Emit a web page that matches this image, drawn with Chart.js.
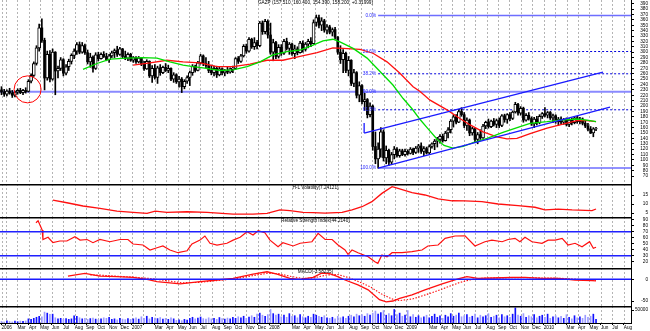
<!DOCTYPE html>
<html>
<head>
<meta charset="utf-8">
<title>GAZP weekly</title>
<script src="https://cdn.jsdelivr.net/npm/chart.js@4.4.1/dist/chart.umd.min.js"></script>
<style>
  html, body { margin: 0; padding: 0; background: #ffffff; }
  #board { position: relative; width: 650px; height: 331px; overflow: hidden; background: #ffffff; }
  #board canvas { position: absolute; left: 0; }
</style>
</head>
<body>
<div id="board">
  <canvas id="priceCanvas" width="650" height="184" style="top:0px"></canvas>
  <canvas id="hlCanvas" width="650" height="33" style="top:184px"></canvas>
  <canvas id="rsiCanvas" width="650" height="51" style="top:217px"></canvas>
  <canvas id="macdCanvas" width="650" height="38" style="top:268px"></canvas>
  <canvas id="volCanvas" width="650" height="25" style="top:306px"></canvas>
</div>
<script>
// GAZP weekly bars, oldest first (bar index = week number)
const opens = [
  230,226,222,228,224,220,226,229,225,229, 227,246,257,279,308,345,322,252,296,250,
  300,265,270,286,261,273,283,294,302,314, 300,312,299,282,291,270,295,288,296,292,
  286,293,299,303,296,306,292,289,296,285, 290,282,289,278,269,283,256,270,253,271,
  262,272,266,270,250,258,245,250,236,246, 253,262,274,266,280,293,279,275,266,262,
  270,258,269,262,265,263,269,270,288,283, 293,311,302,324,310,318,312,354,338,357,
  332,300,318,292,309,298,320,307,315,297, 306,299,317,305,315,320,316,355,364,350,
  358,341,347,337,342,328,300,286,298,266, 285,242,262,220,238,208,212,184,200,125,
  102,120,152,104,118,96,110,120,108,117, 110,116,112,120,114,122,126,116,121,113,
  125,130,135,138,144,136,150,156,172,180, 170,190,184,164,174,150,158,138,147,141,
  163,170,162,172,166,173,164,182,175,184, 177,189,203,187,196,174,183,177,167,176,
  169,181,186,183,188,178,182,171,176,170, 175,166,174,169,178,171,176,168,163,157,
  150,157.51
];
const highs = [
  236,231,230,233,229,228,232,233,231,234, 249,260,282,312,352,362,326,302,303,306,
  301,274,290,288,277,287,297,306,318,319, 318,315,304,298,293,299,300,299,301,298,
  296,302,306,311,309,307,302,299,298,292, 292,292,290,283,286,284,275,277,274,277,
  274,279,276,271,262,260,255,253,249,256, 265,277,276,283,296,295,290,283,276,274,
  274,272,271,268,272,271,274,290,292,296, 314,315,327,326,327,322,357,358,361,360,
  354,324,320,314,314,324,326,318,317,313, 310,320,321,318,324,327,360,369,369,364,
  361,351,350,345,346,329,312,305,300,292, 286,268,264,245,240,224,214,206,202,152,
  132,160,156,126,120,114,125,123,120,120, 120,119,123,122,125,129,132,125,124,128,
  132,138,142,147,148,153,160,175,184,184, 194,197,188,178,176,161,159,151,156,166,
  172,176,174,177,176,178,184,185,186,188, 191,207,205,199,198,186,188,180,179,181,
  184,188,197,190,190,185,184,179,180,177, 178,177,178,180,181,179,178,173,168,162,
  160,160.4
];
const lows = [
  221,218,219,222,216,217,222,223,221,224, 226,243,255,276,302,318,230,248,245,248,
  221,252,266,256,258,266,278,288,296,297, 298,296,278,272,263,268,284,287,290,284,
  281,290,290,292,294,289,286,284,283,281, 279,280,275,266,268,253,244,250,242,257,
  260,264,262,247,244,242,235,225,232,242, 238,257,263,265,278,275,271,262,258,256,
  253,256,258,256,260,261,262,268,279,281, 291,298,300,307,305,306,310,333,334,326,
  296,284,288,289,294,296,304,296,294,288, 295,298,300,302,308,310,315,348,345,340,
  337,334,334,330,324,296,279,262,262,256, 238,236,215,208,204,192,178,180,118,93,
  85,105,98,93,90,92,102,105,105,108, 107,109,111,110,112,114,112,108,111,111,
  122,119,124,131,133,135,141,150,161,167, 169,181,160,155,145,146,133,130,138,140,
  158,159,160,163,160,160,162,170,168,173, 175,187,183,183,170,172,174,164,160,165,
  167,177,180,178,175,169,168,164,167,166, 163,162,165,167,168,167,165,160,154,149,
  143,154.39
];
const closes = [
  226,222,228,224,220,226,229,225,229,227, 246,257,279,308,345,322,252,296,250,300,
  265,270,286,261,273,283,294,302,314,300, 312,299,282,291,270,295,288,296,292,286,
  293,299,303,296,306,292,289,296,285,290, 282,289,278,269,283,256,270,253,271,262,
  272,266,270,250,258,245,250,236,246,253, 262,274,266,280,293,279,275,266,262,270,
  258,269,262,265,263,269,270,288,283,293, 311,302,324,310,318,312,354,338,357,332,
  300,318,292,309,298,320,307,315,297,306, 299,317,305,315,320,316,355,364,350,358,
  341,347,337,342,328,300,286,298,266,285, 242,262,220,238,208,212,184,200,125,102,
  120,152,104,118,96,110,120,108,117,110, 116,112,120,114,122,126,116,121,113,125,
  130,135,138,144,136,150,156,172,180,170, 190,184,164,174,150,158,138,147,141,163,
  170,162,172,166,173,164,182,175,184,177, 189,203,187,196,174,183,177,167,176,169,
  181,186,183,188,178,182,171,176,170,175, 166,174,169,178,171,176,168,163,157,150,
  157.88,158.2
];
const volumes = [
  6000,4000,8000,5500,4000,7000,5000,7500,6000,8000, 16000,14000,18000,22000,26000,24000,42000,38000,33000,34000,
  20000,16000,18000,15000,17000,14000,16000,28000,26000,20000, 16000,18000,14000,17000,19000,15000,13000,16000,20000,18000,
  22000,14000,16000,12000,18000,15000,13000,17000,14000,16000, 20000,15000,24000,18000,26000,16000,22000,19000,17000,21000,
  15000,18000,14000,20000,16000,10000,12000,9000,14000,11000, 18000,22000,16000,19000,23000,17000,15000,20000,16000,18000,
  14000,21000,17000,15000,19000,16000,22000,18000,24000,20000, 26000,18000,23000,28000,22000,34000,38000,30000,26000,32000,
  52000,36000,30000,34000,24000,30000,22000,36000,26000,28000, 20000,32000,24000,20000,26000,22000,34000,30000,26000,22000,
  28000,20000,18000,22000,16000,26000,20000,24000,18000,26000, 30000,24000,34000,28000,32000,26000,36000,30000,38000,46000,
  34000,40000,48000,30000,36000,28000,52000,32000,38000,26000, 30000,48000,24000,32000,22000,28000,20000,24000,30000,20000,
  26000,34000,22000,28000,18000,30000,24000,36000,26000,30000, 38000,24000,28000,32000,22000,26000,34000,20000,30000,24000,
  28000,36000,22000,26000,30000,20000,32000,24000,28000,22000, 34000,58000,30000,26000,36000,22000,28000,24000,32000,20000,
  26000,30000,22000,34000,18000,24000,28000,20000,26000,18000, 32000,22000,16000,28000,20000,24000,18000,30000,22000,26000,
  34000,14000
];

// moving averages on the price panel (bar, value)
const greenBars = [30.3,35.5,40.3,46.7,52.6,57.8,62.6,67.5,71.2,74.9,81.2,86.1,91.3,96.1,100.9,106.1,111,115.8,119.5,123.2,125.8,130.7,135.9,140.7,145.5,149.3,152.6,155.6,158.5,162,164.5,167.8,171.6,175.3,180.5,186.4,192.8,196.5,202.8,207.6,213.9,217.7,221];
const greenValues = [268,279,287,289,290,289,282,276,273,271,266,267,273,282,295,301,304,313,321,324,319,307,289,264,239,214,195,175,158,138,127,122,125,132,140,151,162,168,171,174,176,174,171];
const redBars = [48.9,55.2,61.5,67.5,73.8,80.1,86.1,92.4,98.7,104.6,111,117.3,123.2,127,133.3,138.1,143.3,148.1,153,155.6,159.3,165.6,170.4,174.2,179,184.2,187.9,191.6,196.5,202.8,207.6,213.9,217.7,221];
const redValues = [276,280,285,282,280,273,273,278,285,285,292,299,308,307,305,298,282,261,236,227,211,193,177,165,152,143,139,140,149,159,165,173,173,171];

// Fibonacci retracement from the 2008 high to the low
const fibHigh = 368, fibLow = 85, fibStartBar = 140;
const fibLevels = [0, 23.6, 38.2, 50, 61.8, 100];

// trend channel and marker
const upperChannelBars = [134.8, 223.6], upperChannelValues = [150, 263];
const lowerChannelBars = [140, 226.2], lowerChannelValues = [85, 198];
const anchorBars = [134.8, 134.8], anchorValues = [150, 168.6];
const markBar = 9.7, markValue = 231;

// indicators (bar, value)
const hlBars = [19.1,24.3,30.3,36.6,42.9,48.9,54.1,57.1,61.5,69,76.4,86.1,93.5,98.7,103.5,107.2,112.1,115.8,120.3,126.6,130.3,134,137.7,141.4,145.2,147.4,152.6,157.4,162.3,167.5,172.3,178.6,184.6,192,198.3,202,206.9,212.1,219.5,221];
const hlValues = [12.2,10.7,8.9,7.6,6.1,5.4,4.8,6.1,5.4,5.7,5.4,4.4,4.4,4.8,6.7,6.3,5.4,5.2,5.0,5.4,6.7,8.5,11.3,15.9,19.6,18.7,16.3,15,12.8,11.8,11.7,11.3,10,9.1,8.2,6.7,7.2,6.7,6.3,7.24];
const rsiBars = [12.8,13.6,15.1,15.4,17.3,19.1,21.7,24.3,27.3,29.2,31.8,34,36.6,40.3,44.1,47,48.9,52.6,55.2,57.8,60,62.6,65.6,69,70.8,73.8,75.6,77.5,80.1,83.8,86.1,88.7,91.3,93.5,95.4,97.9,99.8,102.8,104.6,108.4,111,115.4,117.7,120.3,122.9,125.1,127.7,128.8,130.3,132.5,136.3,138.8,139.9,141.4,143.3,145.2,148.9,152.6,156.3,158.5,162.3,164.9,168.6,172.3,176,179.7,182.3,186.1,188.3,190.9,192.7,194.6,197.2,200.9,203.2,205.8,208.4,210.6,213.2,215.8,218.6,220,221];
const rsiValues = [85,88.3,72.8,57,60.7,51.7,54.5,54.5,61.7,56,57,51.7,57,53.3,57,57,49.5,47.8,39.5,43.3,46.2,39.5,35,38.3,49.5,56,62.8,50.7,47.8,50.7,56,60.7,70,64.5,71.7,68.3,56,45,51.7,46.2,50.7,53.3,67.3,57,57,47.8,39.5,32.3,39.5,35,28.3,20,17.3,31,28.3,35,35,36.7,39.5,46.2,47.8,59,62.8,63,46.2,53.3,56,53.3,57,59,53.3,60.7,53.3,50.7,56,56,59,47.8,50.7,45,53.3,42.3,44.2];
const macdBars = [24.7,31,36.6,42.9,48.9,54.1,57.8,66.4,73.8,80.1,86.1,93.5,98.7,102.4,107.2,111,115.8,119,122,125,127.7,132.5,136.3,138.5,140.5,143,145.5,148,152.6,157.4,163.8,169.7,173,177.1,183,189.8,194.6,200.9,206.9,213.2,219.5,221];
const macdValues = [7.5,13.6,7.5,6,4.5,0,-5.4,-10.7,-5.4,-1.6,2.3,12,17.3,12,2.3,0,4.5,14,13,6,-1.6,-13,-24.3,-36,-47,-52,-50,-44,-35.7,-24.3,-10.7,0.7,6,2.3,3,4.5,4.5,2.3,2.3,-1.6,-3.2,-3.58];
const signalBars = [33,37,43,49,55,60,67,74,80,86,93,99,103,108,112,116,121,125,129,133,137,141,145,148,153,158,164,170,175,180,190,195,201,207,213,219,221];
const signalValues = [10,9.5,7,5,2,-2,-8,-7,-3,0.5,8,14,13,6,2,3,10,11,4,-6,-17,-33,-45,-49,-45,-35,-22,-8,0,3,3.5,4,3,2.5,0.5,-2,-2.5];

// axis ticks
const priceTicks = [70,80,90,100,110,120,130,140,150,160,170,180,190,200,210,220,230,240,250,260,270,280,290,300,310,320,330,340,350,360,370,380,390];
const hlTicks = [5, 10, 15];
const rsiTicks = [20, 30, 40, 50, 60, 70, 80, 90];
const macdTicks = [-50, 0];
const volTicks = [50000];

// month starts on the bar axis, Feb 2006 .. Aug 2010 (first entry marks the first bar)
const monthTicks = [
  0, 1.67, 5.93, 10.18, 14.43, 18.68, 22.94, 27.19, 31.44, 35.70, 39.95, 44.20,
  48.45, 52.71, 56.96, 61.21, 65.47, 69.72, 73.97, 78.22, 82.48, 86.73, 90.98, 95.23,
  99.49, 103.74, 107.99, 112.25, 116.50, 120.75, 125.00, 129.26, 133.51, 137.76, 142.02, 146.27,
  150.52, 154.77, 159.03, 163.28, 167.53, 171.78, 176.04, 180.29, 184.54, 188.80, 193.05, 197.30,
  201.55, 205.81, 210.06, 214.31, 218.57, 222.82, 227.07, 231.32
];
const monthLabels = [
  '2006', '', 'Mar', 'Apr', 'May', 'Jun', 'Jul', 'Aug', 'Sep', 'Oct', 'Nov', 'Dec',
  '2007', '', 'Mar', 'Apr', 'May', 'Jun', 'Jul', 'Aug', 'Sep', 'Oct', 'Nov', 'Dec',
  '2008', '', 'Mar', 'Apr', 'May', 'Jun', 'Jul', 'Aug', 'Sep', 'Oct', 'Nov', 'Dec',
  '2009', '', 'Mar', 'Apr', 'May', 'Jun', 'Jul', 'Aug', 'Sep', 'Oct', 'Nov', 'Dec',
  '2010', '', 'Mar', 'Apr', 'May', 'Jun', 'Jul', 'Aug'
];
const X_MIN = -0.56, X_MAX = 234;

const FONT = "'Liberation Sans', Arial, sans-serif";
const TXT = 4.7;

const pts = (xs, ys) => xs.map((x, k) => ({ x, y: ys[k] }));

function rightAxis(min, max, values) {
  return {
    position: 'right', min, max,
    afterBuildTicks: s => { s.ticks = values.map(v => ({ value: v })); },
    afterFit: s => { s.width = 17; s.paddingTop = 0; s.paddingBottom = 0; },
    grid: { drawOnChartArea: false, drawTicks: true, tickLength: 3, color: '#000000', lineWidth: 1 },
    border: { display: true, color: '#000000', width: 1 },
    ticks: {
      autoSkip: false, padding: 1, crossAlign: 'far', color: '#000000',
      font: { family: FONT, size: TXT, lineHeight: 1 },
      callback: v => String(v)
    }
  };
}

function hiddenX() {
  return { type: 'linear', min: X_MIN, max: X_MAX, offset: false, display: false, grid: { offset: false } };
}

function line(data, color, width, extra) {
  return Object.assign({
    type: 'line', data, borderColor: color, borderWidth: width,
    pointRadius: 0, fill: false, tension: 0
  }, extra || {});
}

// dashed monthly grid through every panel
const monthGrid = {
  id: 'monthGrid',
  beforeDatasetsDraw(chart) {
    const { ctx, chartArea: a, scales: { x } } = chart;
    ctx.save();
    ctx.strokeStyle = '#b4b4b4';
    ctx.lineWidth = 1;
    ctx.setLineDash([2, 2]);
    monthTicks.forEach(v => {
      const px = Math.round(x.getPixelForValue(v)) + 0.5;
      ctx.beginPath();
      ctx.moveTo(px, a.top);
      ctx.lineTo(px, a.bottom);
      ctx.stroke();
    });
    ctx.restore();
  }
};

const topRule = {
  id: 'topRule',
  afterDraw(chart) {
    const { ctx, chartArea: a } = chart;
    ctx.save();
    ctx.fillStyle = '#000000';
    ctx.fillRect(a.left, a.top, a.right - a.left, 1.5);
    ctx.restore();
  }
};

function caption(text, dy) {
  return {
    id: 'caption',
    afterDraw(chart) {
      const { ctx, chartArea: a } = chart;
      ctx.save();
      ctx.font = TXT + 'px ' + FONT;
      ctx.fillStyle = '#000000';
      ctx.textAlign = 'center';
      ctx.textBaseline = 'middle';
      ctx.fillText(text, (a.left + a.right) / 2, a.top + dy);
      ctx.restore();
    }
  };
}

const fibPrice = p => fibHigh - (fibHigh - fibLow) * p / 100;

const fibText = {
  id: 'fibText',
  afterDatasetsDraw(chart) {
    const { ctx, scales: { x, y } } = chart;
    ctx.save();
    ctx.font = TXT + 'px ' + FONT;
    ctx.fillStyle = '#2a2aff';
    ctx.textAlign = 'right';
    ctx.textBaseline = 'middle';
    fibLevels.forEach(p => {
      ctx.fillText(p.toFixed(1) + '%', x.getPixelForValue(fibStartBar) - 2, y.getPixelForValue(fibPrice(p)));
    });
    ctx.restore();
  }
};

function makeChart(id, type, datasets, yAxis, xAxis, extraPlugins) {
  return new Chart(document.getElementById(id), {
    type,
    data: { datasets },
    options: {
      responsive: false, animation: false, devicePixelRatio: 1, events: [],
      layout: { autoPadding: false, padding: { left: 0, right: 2, top: 0, bottom: 0 } },
      plugins: { legend: { display: false }, tooltip: { enabled: false } },
      scales: { x: xAxis || hiddenX(), y: yAxis }
    },
    plugins: [monthGrid].concat(extraPlugins)
  });
}

// ---- price panel ----
const barIdx = closes.map((_, i) => i);
const upBar = i => closes[i] >= opens[i];
const fibSets = fibLevels.map(p => {
  const v = fibPrice(p);
  if (p === 50) return line([{ x: X_MIN, y: v }, { x: X_MAX, y: v }], '#8a8aff', 2, { order: 9 });
  const solid = p === 0 || p === 100;
  return line([{ x: fibStartBar, y: v }, { x: X_MAX, y: v }], solid ? '#6e6eff' : '#0000dd',
    solid ? 1.5 : 1, { borderDash: solid ? [] : [2, 2], order: 9 });
});

makeChart('priceCanvas', 'bar', [
  ...fibSets,
  {
    type: 'bar', order: 6, grouped: false, barThickness: 1,
    data: barIdx.map(i => ({ x: i, y: [lows[i], highs[i]] })),
    backgroundColor: '#000000'
  },
  {
    // falling weeks: filled bodies
    type: 'bar', order: 5, grouped: false, barThickness: 2,
    data: barIdx.filter(i => !upBar(i)).map(i => ({ x: i, y: [closes[i], opens[i]] })),
    backgroundColor: '#000000'
  },
  {
    // rising weeks: hollow bodies
    type: 'bar', order: 5, grouped: false, barThickness: 3, borderWidth: 1, borderSkipped: false,
    data: barIdx.filter(upBar).map(i => ({ x: i, y: [opens[i], closes[i]] })),
    backgroundColor: '#ffffff', borderColor: '#000000'
  },
  line(pts(greenBars, greenValues), '#00dd00', 1.3, { order: 3 }),
  line(pts(redBars, redValues), '#ff1010', 1.3, { order: 3 }),
  line(pts(upperChannelBars, upperChannelValues), '#1a1aff', 1.3, { order: 2 }),
  line(pts(lowerChannelBars, lowerChannelValues), '#1a1aff', 1.3, { order: 2 }),
  line(pts(anchorBars, anchorValues), '#1a1aff', 1.3, { order: 2 }),
  line([{ x: markBar, y: markValue }], '#ff0000', 1, {
    showLine: false, pointRadius: 13.5, pointBorderWidth: 1,
    pointBorderColor: '#ff0000', pointBackgroundColor: 'rgba(0,0,0,0)', order: 1
  })
], rightAxis(55.4, 396.8, priceTicks), null,
  [fibText, caption('GAZP (157.510, 160.400, 154.390, 158.200, +0.31999)', 3.2)]);

// ---- H-L volatility ----
makeChart('hlCanvas', 'line', [
  line(pts(hlBars, hlValues), '#ff1010', 1.3)
], rightAxis(2.8, 21.1, hlTicks), null, [topRule, caption('H-L Volatility(7.24121)', 3.4)]);

// ---- RSI ----
makeChart('rsiCanvas', 'line', [
  line([{ x: X_MIN, y: 70 }, { x: X_MAX, y: 70 }], '#2020ff', 1.5),
  line([{ x: X_MIN, y: 30 }, { x: X_MAX, y: 30 }], '#2020ff', 1.5),
  line(pts(rsiBars, rsiValues), '#ff1010', 1.2)
], rightAxis(9.5, 94.5, rsiTicks), null, [topRule, caption('Relative Strength Index(44.2140)', 3.7)]);

// ---- MACD ----
makeChart('macdCanvas', 'line', [
  line([{ x: X_MIN, y: 0 }, { x: X_MAX, y: 0 }], '#1a1aff', 1.5),
  line(pts(signalBars, signalValues), '#ff1010', 1.1, { borderDash: [1.5, 1.5] }),
  line(pts(macdBars, macdValues), '#ff1010', 1.3)
], rightAxis(-61.5, 26, macdTicks), null, [topRule, caption('MACD(-3.58235)', 3.7)]);

// ---- volume with the month axis ----
const volX = {
  type: 'linear', min: X_MIN, max: X_MAX, offset: false, position: 'bottom',
  afterBuildTicks: s => { s.ticks = monthTicks.map(v => ({ value: v })); },
  afterFit: s => { s.height = 8; s.paddingLeft = 0; s.paddingRight = 0; },
  grid: { offset: false, drawOnChartArea: false, drawTicks: true, tickLength: 2, color: '#000000' },
  border: { display: true, color: '#000000', width: 1 },
  ticks: {
    autoSkip: false, maxRotation: 0, minRotation: 0, align: 'start', padding: 0,
    color: '#000000', font: { family: FONT, size: TXT, lineHeight: 1 },
    callback: (v, i) => monthLabels[i]
  }
};
makeChart('volCanvas', 'bar', [
  {
    type: 'bar', barThickness: 1, grouped: false,
    data: barIdx.map(i => ({ x: i, y: volumes[i] })),
    backgroundColor: barIdx.map(i => upBar(i) ? '#1010ff' : '#9c9cff')
  }
], rightAxis(0, 65400, volTicks), volX, [topRule]);
</script>
</body>
</html>
